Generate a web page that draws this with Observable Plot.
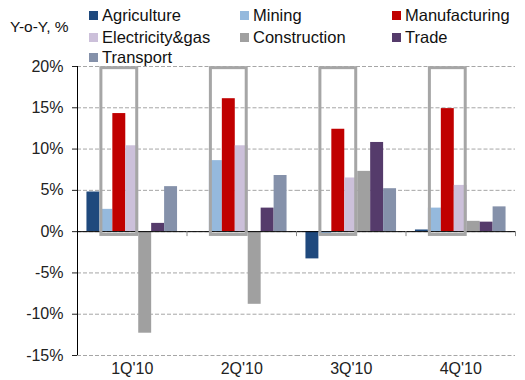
<!DOCTYPE html>
<html><head><meta charset="utf-8">
<script src="https://cdn.jsdelivr.net/npm/d3@7"></script>
<script src="https://cdn.jsdelivr.net/npm/@observablehq/plot@0.6"></script>
<style>
body{margin:0;background:#fff;}
#wrap{position:relative;width:525px;height:380px;font-family:"Liberation Sans",Arial,sans-serif;color:#111;}
#ylab{position:absolute;left:10px;top:18px;font-size:15.5px;z-index:2}
.leg{position:absolute;font-size:16.5px;display:flex;align-items:center;white-space:nowrap;line-height:1;z-index:2}
.sw{width:9px;height:9px;margin-right:4px;display:inline-block}
svg{display:block}
</style></head><body><div id="wrap"><div id="ylab">Y-o-Y, %</div></div>
<script>
const quarters = ["1Q'10", "2Q'10", "3Q'10", "4Q'10"];
const sectors = ["Agriculture", "Mining", "Manufacturing", "Electricity&gas", "Construction", "Trade", "Transport"];
const agriculture   = [4.8, 0.0, -3.3, 0.2];
const mining        = [2.7, 8.6, -0.4, 2.85];
const manufacturing = [14.3, 16.1, 12.4, 14.9];
const electricity   = [10.4, 10.4, 6.5, 5.6];
const construction  = [-12.3, -8.8, 7.3, 1.25];
const trade         = [1.0, 2.85, 10.8, 1.15];
const transport     = [5.45, 6.8, 5.2, 3.0];
const colors = ["#1f497d", "#95b9dd", "#c00000", "#ccc0da", "#a0a0a0", "#553b6b", "#8591aa"];
const yTicks = [-15, -10, -5, 0, 5, 10, 15, 20];
const boxTop = 19.8, boxBottom = -0.4;

const seriesVals = [agriculture, mining, manufacturing, electricity, construction, trade, transport];
const data = quarters.flatMap((q, i) => sectors.map((s, j) => ({quarter: q, sector: s, value: seriesVals[j][i]})));

const W = 525, H = 380, mL = 77, mR = 10, mT = 66, mB = 25;
const padOuter = 0.73;
const facetW = (W - mL - mR) / quarters.length;
const step = facetW / (sectors.length + 2 * padOuter);
const edge = step * 0.5 + padOuter * step;
const font = '"Liberation Sans", Arial, sans-serif';

const chart = Plot.plot({
  width: W, height: H, marginLeft: mL, marginRight: mR, marginTop: mT, marginBottom: mB,
  style: {fontFamily: font, fontSize: "15px", color: "#222", background: "white"},
  fx: {domain: quarters, padding: 0, label: null, round: false},
  x: {domain: sectors, paddingInner: 0, paddingOuter: padOuter, axis: null, round: false},
  y: {domain: [-15, 20], label: null},
  color: {domain: sectors, range: colors},
  marks: [
    Plot.gridY(yTicks, {stroke: "#a6a6a6", strokeOpacity: 1, strokeDasharray: "4,2"}),
    Plot.barY(data, {fx: "quarter", x: "sector", y: "value", fill: "sector"}),
    Plot.ruleY([0], {stroke: "#000", strokeWidth: 1}),
    Plot.barY(quarters, {fx: d => d, x: () => "Manufacturing", y1: () => boxBottom, y2: () => boxTop,
      fill: "none", stroke: "#a6a6a6", strokeWidth: 3, insetLeft: -(step - 1.5), insetRight: -(step - 1.5)}),
    Plot.ruleX(quarters, {fx: d => d, x: () => "Transport", dx: edge, y1: () => 0, y2: () => -0.6, stroke: "#888"}),
    Plot.ruleX([quarters[0]], {fx: d => d, x: () => sectors[0], dx: -edge, y1: () => -15, y2: () => 20, stroke: "#000"}),
    Plot.axisY(yTicks, {tickFormat: d => d + "%", tickSize: 5, tickPadding: 9, label: null, fontSize: 16}),
    Plot.axisFx({anchor: "bottom", tickSize: 0, tickPadding: 7, fontSize: 16, label: null})
  ]
});
const wrap = document.getElementById("wrap");
wrap.appendChild(chart);

const legPos = [[89, 16], [240, 16], [392, 16], [89, 38], [240, 38], [392, 38], [89, 58]];
sectors.forEach((s, i) => {
  const d = document.createElement("div");
  d.className = "leg";
  d.style.left = legPos[i][0] + "px";
  d.style.top = (legPos[i][1] - 9) + "px";
  d.innerHTML = `<span class="sw" style="background:${colors[i]}"></span><span>${s}</span>`;
  wrap.appendChild(d);
});
</script></body></html>
